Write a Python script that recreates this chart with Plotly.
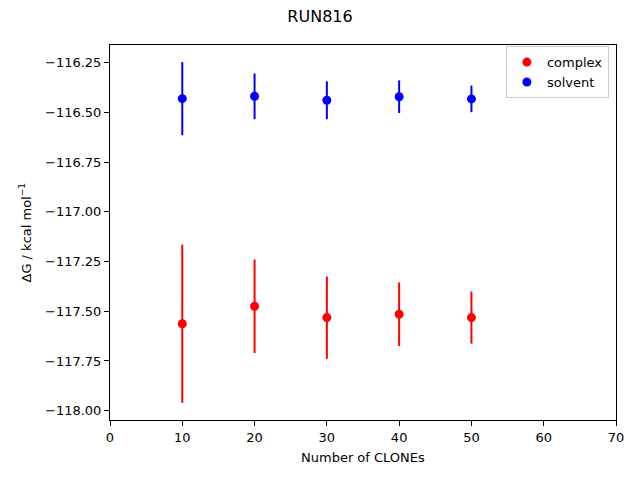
import plotly.graph_objects as go

clones = [10, 20, 30, 40, 50]
complex_dg = [-117.563, -117.475, -117.532, -117.515, -117.532]
complex_err = [0.398, 0.235, 0.207, 0.160, 0.131]
solvent_dg = [-116.431, -116.419, -116.439, -116.421, -116.432]
solvent_err = [0.184, 0.115, 0.095, 0.082, 0.067]
yticks = [-118.00, -117.75, -117.50, -117.25, -117.00, -116.75, -116.50, -116.25]
xticks = [0, 10, 20, 30, 40, 50, 60, 70]

font = dict(family="DejaVu Sans", size=13, color="black")

fig = go.Figure()
fig.add_trace(go.Scatter(
    x=clones, y=complex_dg, mode="markers", name="complex",
    marker=dict(color="red", size=9),
    error_y=dict(type="data", array=complex_err, color="red", thickness=2, width=0),
))
fig.add_trace(go.Scatter(
    x=clones, y=solvent_dg, mode="markers", name="solvent",
    marker=dict(color="blue", size=9),
    error_y=dict(type="data", array=solvent_err, color="blue", thickness=2, width=0),
))

axis_common = dict(
    showline=True, linecolor="black", linewidth=1, mirror=True,
    ticks="outside", ticklen=5, tickcolor="black", tickwidth=1,
    showgrid=False, zeroline=False, tickfont=font,
)

fig.update_layout(
    width=632, height=472,
    paper_bgcolor="white", plot_bgcolor="white",
    margin=dict(l=102, r=24, t=37, b=60),
    title=dict(text="RUN816", x=0.4937, xanchor="center", y=0.983, yanchor="middle",
               font=dict(family="DejaVu Sans", size=16, color="black")),
    font=font,
    xaxis=dict(range=[0, 70], tickvals=xticks, **axis_common),
    yaxis=dict(range=[-118.047, -116.161], tickvals=yticks, tickformat=".2f", **axis_common),
    legend=dict(x=0.986, y=0.997, xanchor="right", yanchor="top",
                bordercolor="#cccccc", borderwidth=1, bgcolor="white",
                font=font, tracegroupgap=0),
    showlegend=True,
    annotations=[
        dict(text="Number of CLONEs", xref="paper", yref="paper", x=0.5, y=-0.0987,
             xanchor="center", yanchor="middle", showarrow=False, font=font),
        dict(text="ΔG / kcal mol<sup>−1</sup>", xref="paper", yref="paper", x=-0.168, y=0.5,
             xanchor="center", yanchor="middle", textangle=-90, showarrow=False, font=font),
    ],
)

fig.write_html("out.html")
